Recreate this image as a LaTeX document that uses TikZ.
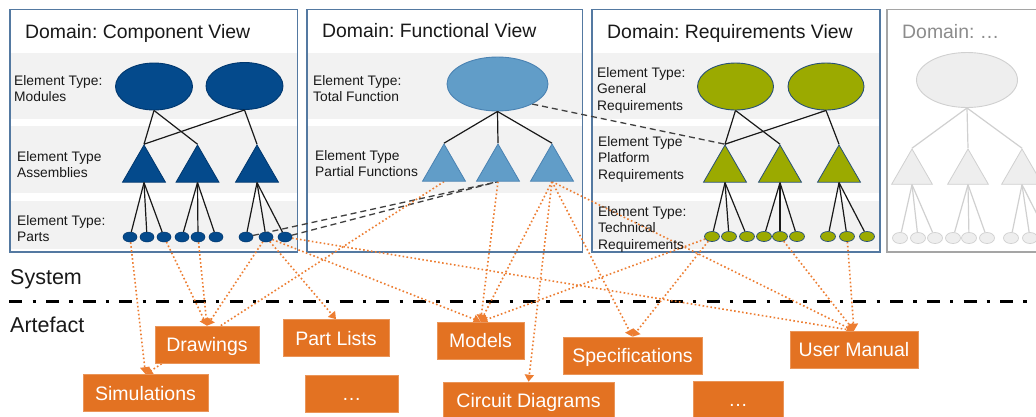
\documentclass[tikz,border=0pt]{standalone}
\usepackage{fontspec}
\setmainfont{Liberation Sans}
\usetikzlibrary{shapes.geometric,arrows.meta}
\definecolor{cblue}{RGB}{4,74,140}
\definecolor{cbluedk}{RGB}{0,55,110}
\definecolor{fblue}{RGB}{97,157,200}
\definecolor{fbluedk}{RGB}{74,130,178}
\definecolor{rolive}{RGB}{155,170,0}
\definecolor{rolivedk}{RGB}{40,80,120}
\definecolor{gfill}{RGB}{238,238,238}
\definecolor{gline}{RGB}{208,208,208}
\definecolor{bandc}{RGB}{242,242,242}
\definecolor{pborder}{RGB}{84,121,161}
\definecolor{gborder}{RGB}{165,165,165}
\definecolor{obox}{RGB}{227,114,34}
\definecolor{oline}{RGB}{237,125,49}
\definecolor{txt}{RGB}{25,25,25}
\definecolor{gtxt}{RGB}{140,140,140}
\frenchspacing
\newcommand\lab[1]{\vtop{\baselineskip=16.5pt\lineskiplimit=-20pt\halign{##\hfil\cr#1\crcr}}}
\pgfdeclarelayer{back}
\pgfdeclarelayer{mid}
\pgfsetlayers{back,mid,main}
\tikzset{
  lbl/.style={font=\fontsize{13.8}{16.5}\selectfont, text=txt, inner sep=0pt, anchor=base west},
  ttl/.style={font=\fontsize{19.4}{23}\selectfont, text=txt, inner sep=0pt, anchor=base west},
  big/.style={font=\fontsize{21.5}{25}\selectfont, text=txt, inner sep=0pt, anchor=base west},
  panel/.style={draw=pborder, line width=1.5pt},
  bandfill/.style={fill=bandc},
  tri/.style={regular polygon, regular polygon sides=3, inner sep=0pt, minimum size=49.6pt, line width=0.8pt},
  ctri/.style={tri, fill=cblue, draw=cbluedk},
  ftri/.style={tri, fill=fblue, draw=fbluedk},
  rtri/.style={tri, fill=rolive, draw=rolivedk},
  gtri/.style={tri, minimum size=47pt, fill=gfill, draw=gline},
  ell/.style={ellipse, inner sep=0pt, line width=0.9pt},
  cell/.style={ell, fill=cblue, draw=cbluedk, minimum width=77pt, minimum height=47pt},
  fell/.style={ell, fill=fblue, draw=fbluedk, minimum width=101pt, minimum height=54pt},
  rell/.style={ell, fill=rolive, draw=rolivedk, minimum width=76pt, minimum height=47pt},
  gell/.style={ell, fill=gfill, draw=gline, minimum width=101pt, minimum height=55pt},
  cpart/.style={ell, fill=cblue, draw=cbluedk, line width=0.5pt, minimum width=14pt, minimum height=10pt},
  rpart/.style={ell, fill=rolive, draw=rolivedk, line width=0.7pt, minimum width=15pt, minimum height=10pt},
  gpart/.style={ell, fill=gfill, draw=gline, line width=0.7pt, minimum width=15pt, minimum height=11pt},
  tree/.style={draw=txt, line width=1.2pt},
  gtree/.style={draw=gline, line width=1.2pt},
  dsh/.style={draw=black!75, line width=1.3pt, dash pattern=on 6pt off 4pt},
  oarr/.style={draw=oline, line width=1.6pt, dash pattern=on 1.6pt off 2.4pt, -{Triangle[length=7pt,width=9pt]}},
  obx/.style={rectangle, fill=obox, draw=obox!75!white, line width=0.6pt, text=white,
    font=\fontsize{19.5}{23}\selectfont, minimum height=37pt, inner sep=0pt,
    text height=14pt, text depth=0pt},
}
\begin{document}
\begin{tikzpicture}[x=1pt,y=-1pt]
\useasboundingbox (0,0) rectangle (1036,416);
\begin{pgfonlayer}{back}
\fill[white] (0,0) rectangle (1036,416);
% bands
\fill[bandfill] (10,53) rectangle (297.5,118.5);
\fill[bandfill] (10,126) rectangle (297.5,192.5);
\fill[bandfill] (10,201) rectangle (297.5,249);
\fill[bandfill] (307,53) rectangle (582.5,118.5);
\fill[bandfill] (307,126) rectangle (582.5,192.5);
\fill[bandfill] (592,53) rectangle (880,118.5);
\fill[bandfill] (592,126) rectangle (880,192.5);
\fill[bandfill] (592,201) rectangle (880,249);
% panels
\draw[panel] (10,9.5) rectangle (297.5,252);
\draw[panel] (307,9.5) rectangle (582.5,252);
\draw[panel] (592,9.5) rectangle (880,252);
\draw[draw=gborder, line width=1.5pt] (1045,9.5) -- (887,9.5) -- (887,252) -- (1045,252);
% system / artefact separator
\draw[line width=3.3pt, dash pattern=on 13pt off 10.2pt on 3.3pt off 10.2pt] (9.3,301.5) -- (1036,301.5);
\end{pgfonlayer}

% titles
\node[ttl] (t1) at (25,38.5) {Domain: Component View};
\node[ttl] (t2) at (322,37) {Domain: Functional View};
\node[ttl] (t3) at (607,38.5) {Domain: Requirements View};
\node[ttl, text=gtxt] (t4) at (902,38.5) {Domain: …};

% element type labels
\node[lbl] (lmod) at (14,85) {\lab{Element Type:\cr Modules}};
\node[lbl] (lasm) at (17,161) {\lab{Element Type\cr Assemblies}};
\node[lbl] (lpar) at (17,225) {\lab{Element Type:\cr Parts}};
\node[lbl] (ltot) at (313,85) {\lab{Element Type:\cr Total Function}};
\node[lbl] (lpf) at (315,160) {\lab{Element Type\cr Partial Functions}};
\node[lbl] (lgr) at (597,77) {\lab{Element Type:\cr General\cr Requirements}};
\node[lbl] (lpr) at (598,146) {\lab{Element Type\cr Platform\cr Requirements}};
\node[lbl] (ltr) at (598,216) {\lab{Element Type:\cr Technical\cr Requirements}};

\node[big] (sys) at (10,284) {System};
\node[big] (art) at (10,332) {Artefact};

% component view
\node[cell] (ce1) at (154,86.5) {};
\node[cell] (ce2) at (244.5,86) {};
\node[ctri] (ct1) at (144,169.8) {};
\node[ctri] (ct2) at (197.5,169.8) {};
\node[ctri] (ct3) at (257,169.8) {};
\foreach \x [count=\i] in {130,147,164,182,198,216,246,266,285}
  \node[cpart] (cp\i) at (\x,237) {};
\draw[tree] (ce1.south) -- (ct1.corner 1);
\draw[tree] (ce1.south) -- (ct2.corner 1);
\draw[tree] (ce2.south) -- (ct1.corner 1);
\draw[tree] (ce2.south) -- (ct3.corner 1);
\foreach \t/\a/\b/\c in {ct1/1/2/3, ct2/4/5/6, ct3/7/8/9} {
  \draw[tree] (\t.side 2) -- (cp\a);
  \draw[tree] (\t.side 2) -- (cp\b);
  \draw[tree] (\t.side 2) -- (cp\c);
}

% functional view
\node[fell] (fe) at (497.5,84) {};
\node[ftri] (ft1) at (444,168.8) {};
\node[ftri] (ft2) at (498,168.8) {};
\node[ftri] (ft3) at (552,168.8) {};
\draw[tree] (fe.south) -- (ft1.corner 1);
\draw[tree] (fe.south) -- (ft2.corner 1);
\draw[tree] (fe.south) -- (ft3.corner 1);

% requirements view
\node[rell] (re1) at (735.5,86.5) {};
\node[rell] (re2) at (826,86.5) {};
\node[rtri] (rt1) at (725,169.8) {};
\node[rtri] (rt2) at (780,169.8) {};
\node[rtri] (rt3) at (839,169.8) {};
\foreach \x [count=\i] in {712,729,747,764,780,797,828,847,867}
  \node[rpart] (rp\i) at (\x,236.5) {};
\draw[tree] (re1.south) -- (rt1.corner 1);
\draw[tree] (re1.south) -- (rt2.corner 1);
\draw[tree] (re2.south) -- (rt1.corner 1);
\draw[tree] (re2.south) -- (rt3.corner 1);
\foreach \t/\a/\b/\c in {rt1/1/2/3, rt2/4/5/6, rt3/7/8/9} {
  \draw[tree] (\t.side 2) -- (rp\a);
  \draw[tree] (\t.side 2) -- (rp\b);
  \draw[tree] (\t.side 2) -- (rp\c);
}

% further domain (grey)
\node[gell] (ge) at (967,80) {};
\node[gtri] (gt1) at (912,172.5) {};
\node[gtri] (gt2) at (968,172.5) {};
\node[gtri] (gt3) at (1022,172.5) {};
\foreach \x [count=\i] in {900,918,935,953,969,987,1011,1030,1049}
  \node[gpart] (gp\i) at (\x,238) {};
\draw[gtree] (ge.south) -- (gt1.corner 1);
\draw[gtree] (ge.south) -- (gt2.corner 1);
\draw[gtree] (ge.south) -- (gt3.corner 1);
\foreach \t/\a/\b/\c in {gt1/1/2/3, gt2/4/5/6, gt3/7/8/9} {
  \draw[gtree] (\t.side 2) -- (gp\a);
  \draw[gtree] (\t.side 2) -- (gp\b);
  \draw[gtree] (\t.side 2) -- (gp\c);
}

% artefact boxes
\node[obx, minimum width=104pt] (drw) at (207,344.5) {Drawings};
\node[obx, minimum width=106pt] (pl) at (336,338) {Part Lists};
\node[obx, minimum width=87pt] (mod) at (480.5,340.5) {Models};
\node[obx, minimum width=125pt] (sim) at (145.5,393) {Simulations};
\node[obx, minimum width=93pt] (dt1) at (351.5,393.5) {…};
\node[obx, minimum width=171pt] (cd) at (528.5,400.5) {Circuit Diagrams};
\node[obx, minimum width=139pt] (spec) at (632.5,355.5) {Specifications};
\node[obx, minimum width=90pt] (dt2) at (738,399.5) {…};
\node[obx, minimum width=128pt] (um) at (854,349.5) {User Manual};

\begin{pgfonlayer}{mid}
% dashed cross-domain links
\draw[dsh] (fe.-30) -- (rt1.corner 1);
\draw[dsh] (cp7) -- (ft2.side 2);
\draw[dsh] (cp9) -- (ft2.side 2);
% system -> artefact links
\draw[oarr] (cp1) -- (sim.north);
\draw[oarr] (cp3) -- (drw.north);
\draw[oarr] (cp5) -- (drw.north);
\draw[oarr] (cp8) -- (drw.north);
\draw[oarr] (cp8) -- (pl.north);
\draw[oarr] (cp8) -- (mod.north);
\draw[oarr] (cp9) -- (um.north);
\draw[oarr] (ft1.side 2) -- (sim.north);
\draw[oarr] (ft2.side 2) -- (mod.north);
\draw[oarr] (ft3.side 2) -- (mod.north);
\draw[oarr] (ft3.side 2) -- (cd.north);
\draw[oarr] (ft3.side 2) -- (spec.north);
\draw[oarr] (ft3.side 2) -- (um.north);
\draw[oarr] (rp1) -- (mod.north);
\draw[oarr] (rp1) -- (spec.north);
\draw[oarr] (rp5) -- (um.north);
\draw[oarr] (rp8) -- (um.north);
\end{pgfonlayer}
\end{tikzpicture}
\end{document}
